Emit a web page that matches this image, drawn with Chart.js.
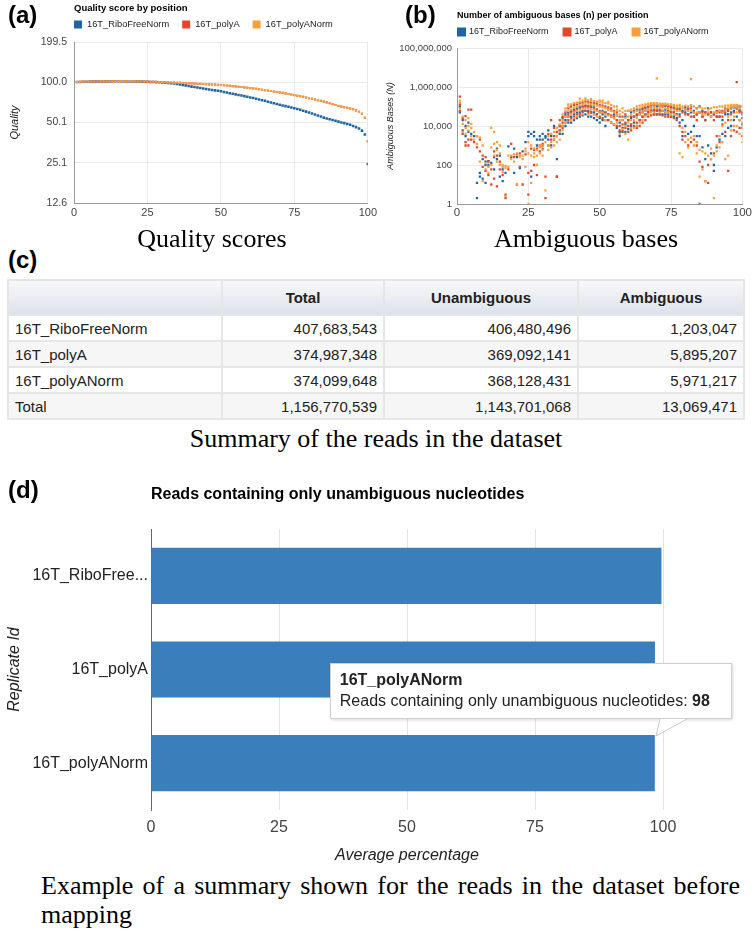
<!DOCTYPE html>
<html>
<head>
<meta charset="utf-8">
<script src="https://cdn.jsdelivr.net/npm/chart.js@4.4.1/dist/chart.umd.min.js"></script>
<style>
  body { margin: 0; background: #fff; }
  #page { position: relative; width: 754px; height: 941px; overflow: hidden; font-family: Arial, "Liberation Sans", sans-serif; }
  canvas { position: absolute; }
  .panel-label { position: absolute; font: bold 24px/24px Arial, "Liberation Sans", sans-serif; color: #000; }
  .caption { position: absolute; font: 26px/26px "Liberation Serif", "Times New Roman", serif; color: #000; text-align: center; white-space: nowrap; }
  #bottomCaption { position: absolute; left: 41px; top: 871px; width: 699px; font: 26px/29px "Liberation Serif", "Times New Roman", serif; color: #000; text-align: justify; }
  #reads { position: absolute; left: 7px; top: 279px; width: 736px; border-collapse: collapse; table-layout: fixed; font: 15px Arial, "Liberation Sans", sans-serif; color: #222; }
  #reads th, #reads td { border: 2px solid #e6e6e6; padding: 0 6px; white-space: nowrap; }
  #reads th { height: 33px; font-weight: bold; text-align: center; background: linear-gradient(#f7f8fa, #dde2ea); }
  #reads td { height: 24px; }
  #reads td.num { text-align: right; }
  #reads tbody tr:nth-child(even) td { background: #f6f6f6; }
  #tip { position: absolute; display: none; width: 402px; height: 56px; box-sizing: border-box; padding: 6px 9px 0 9px; background: #fff; border: 1px solid #cfcfcf; box-shadow: 1px 1px 3px rgba(0,0,0,0.15); color: #222; }
  #tip .t { font: bold 16px/20px Arial, "Liberation Sans", sans-serif; }
  #tip .b { font: 16px/21px Arial, "Liberation Sans", sans-serif; white-space: nowrap; }
  #tip svg { position: absolute; left: 324px; top: 54px; overflow: visible; }
</style>
</head>
<body>
<div id="page">
  <canvas id="chartA" width="380" height="231" style="left:0;top:0"></canvas>
  <canvas id="chartB" width="377" height="231" style="left:377px;top:0"></canvas>
  <canvas id="chartD" width="754" height="395" style="left:0;top:470px"></canvas>

  <div class="panel-label" style="left:8px;top:3px">(a)</div>
  <div class="panel-label" style="left:405px;top:3px">(b)</div>
  <div class="panel-label" style="left:8px;top:248px">(c)</div>
  <div class="panel-label" style="left:8px;top:478px">(d)</div>

  <div class="caption" style="left:112px;top:226px;width:200px">Quality scores</div>
  <div class="caption" style="left:486px;top:226px;width:200px">Ambiguous bases</div>
  <div class="caption" style="left:126px;top:426px;width:500px">Summary of the reads in the dataset</div>
  <div id="bottomCaption">Example of a summary shown for the reads in the dataset before mapping</div>

  <table id="reads">
    <colgroup><col style="width:214px"><col style="width:162px"><col style="width:194px"><col style="width:166px"></colgroup>
    <thead><tr><th></th><th>Total</th><th>Unambiguous</th><th>Ambiguous</th></tr></thead>
    <tbody></tbody>
  </table>

  <div id="tip">
    <div class="t"></div>
    <div class="b"></div>
    <svg width="34" height="19"><polygon points="5,1 32,1 1,18" fill="#fff"/><polyline points="5,1 1,18 32,1" fill="none" stroke="#c8c8c8"/></svg>
  </div>
</div>

<script>
// series names / colours
const seriesNames = ['16T_RiboFreeNorm', '16T_polyA', '16T_polyANorm'];
const seriesColors = ['#1f64a4', '#e2472a', '#f9a03c'];

// (a) quality score by position, positions 1..100
const qualRibo = [
  100.3,100.5,100.7,100.9,101.0,101.1,101.2,101.3,101.4,101.4,
  101.5,101.5,101.6,101.6,101.6,101.6,101.5,101.5,101.4,101.4,
  101.3,101.2,101.1,101.0,100.8,100.6,100.4,100.2,100.0,99.7,
  99.3,98.9,98.4,97.8,97.2,96.4,95.6,94.8,93.8,92.8,
  92.1,91.4,90.6,89.9,89.1,88.4,87.7,87.0,86.3,85.6,
  84.7,83.8,82.9,82.0,81.2,80.4,79.6,78.8,77.9,77.1,
  76.2,75.3,74.4,73.5,72.7,71.7,70.7,69.8,68.8,67.9,
  67.1,66.4,65.6,64.8,64.1,63.2,62.3,61.3,60.4,59.5,
  58.5,57.5,56.5,55.5,54.5,53.7,53.0,52.3,51.6,50.9,
  50.2,49.6,48.9,48.2,47.2,46.3,45.3,43.6,40.8,24.6
];
const qualPolyA = [
  100.4,100.6,100.8,100.9,101.1,101.2,101.3,101.4,101.4,101.5,
  101.6,101.6,101.6,101.7,101.7,101.7,101.6,101.6,101.5,101.4,
  101.4,101.3,101.2,101.1,101.0,100.8,100.7,100.5,100.4,100.2,
  100.0,99.8,99.6,99.4,99.2,99.0,98.7,98.5,98.3,98.0,
  97.7,97.5,97.2,97.0,96.7,96.5,96.2,96.0,95.7,95.4,
  95.0,94.5,94.0,93.6,93.1,92.6,92.1,91.6,91.0,90.5,
  89.9,89.3,88.6,88.0,87.3,86.7,86.0,85.4,84.7,84.0,
  83.3,82.6,81.8,81.0,80.2,79.4,78.6,77.8,77.0,76.1,
  75.3,74.4,73.6,72.7,71.8,70.8,69.8,68.7,67.7,66.6,
  65.9,65.2,64.4,63.7,62.9,61.7,60.1,58.3,54.4,36.3
];
const qualPolyANorm = [
  100.4,100.6,100.8,101.0,101.1,101.2,101.3,101.4,101.5,101.5,
  101.6,101.6,101.7,101.7,101.7,101.7,101.6,101.6,101.5,101.5,
  101.4,101.3,101.2,101.1,101.0,100.9,100.7,100.6,100.4,100.2,
  100.0,99.8,99.6,99.4,99.2,99.0,98.8,98.6,98.3,98.0,
  97.8,97.5,97.3,97.0,96.8,96.5,96.3,96.0,95.8,95.5,
  95.0,94.5,94.1,93.6,93.1,92.6,92.1,91.6,91.1,90.6,
  90.0,89.3,88.7,88.0,87.4,86.7,86.1,85.4,84.8,84.1,
  83.4,82.6,81.8,81.1,80.3,79.5,78.7,77.9,77.0,76.2,
  75.4,74.5,73.6,72.8,71.9,70.9,69.8,68.8,67.7,66.7,
  66.0,65.2,64.5,63.8,63.0,61.8,60.2,58.4,54.5,36.4
];
const qualTicks = [12.6, 25.13, 50.13, 100.0, 199.5];
const posTicks = [0, 25, 50, 75, 100];

// (b) ambiguous bases per position: several counts at each position 1..100
const ambRibo = [
  [5e4,1e5],[6e3,2e4],[3e3,1e4],[5e3,1.5e4],[4e3],[3e3],[3e3,12,2],[40,25],[200,20],[150,100,12],
  [160,100],[130],[250,60],[700,200],[300,25],[15,60],[40],[900],[250],[700,40],
  [250],[70],[500],[1.5e3],[5e3,3e3],[4e3,25],[5e3,3e3],[1e3,2e3],[2e3,3e3],[4e3,2e3,1e3],
  [2.5e3,3e3],[6e3,2e3],[1e3,3e3],[1e4,2e3],[3e3,200,25],[1e4,4e3,6e3],[2.5e4,1e4,4e3],[2e4,1e4,4e4],[5e4,3e4,1.5e4],[6e4,3e4,1.5e4],
  [7e4,4e4,2e4],[8e4,5e4,2.5e4],[9e4,5e4,3e4],[1e5,6e4,3.5e4],[1.1e5,6e4,4e4],[1e5,6e4,3e4],[1e5,5e4,3e4],[9e4,5e4,2.5e4],[7e4,4e4,2e4],[5e4,2.5e4,1.5e4],
  [4e4,2e4,6e4],[3e4,1e4,5e4],[4e4,2e4,7e4],[3e4,1.5e4,6e4],[2.5e4,1.2e4,4e4],[2e4,8e3,3.5e4],[5e3,3e3,1.5e4],[8e3,5e3,2e4],[1.2e4,5e3,3e4],[6e4,7e3,2e4],
  [5e4,1e4,2.5e4],[6e4,1.5e4,3e4],[7e4,1e4,3.5e4],[7e4,2e4,4e4],[8e4,3e4,5e4],[9e4,4e4,6e4],[1e5,5e4,7e4],[1.2e5,6e4,8e4],[1.1e5,6e4,4e4],[1e5,7e4,4e4],
  [1.1e5,6e4,4e4],[1e5,6e4,4e4],[1.1e5,7e4,4e4],[1e5,6e4,4e4],[9e4,5e4,3e4],[8e4,5e4,3e4],[8e4,4e4,2.5e4],[7e4,4e4,1.5e4],[6e4,3e3,2e4],[9e4,1e4,5e4],
  [8e4,4e3,4e4],[5e4,5e3,1.1e5],[6e4,1e4,3e4],[4e4,3e3,8e4],[1e5,3e3,5e4],[6e4,800,3e4],[5e4,200,2e4],[8e4,1e3,4e4],[5e4,400,3e4],[4e4,100,50],
  [5e4,800,3e4],[6e4,2e3,3e4],[5e4,4e3,2e4],[7e4,3e3,4e4],[7e4,8e3,4e4],[8e4,1e4,5e4],[9e4,2e4,6e4],[8e4,3e4,1.1e5],[6e4,2e4,1e5],[5e4,1.2e4,2.5e4]
];
const ambPolyA = [
  [3.2e5,1.3e5,6e4],[2.5e4,4e3],[3.2e4,1.5e3,1e3],[7e4,2e3,1e3],[7e4,2e3],[1.5e3],[800],[2e3,500],[300,80],[250,50],
  [150,30],[10,60],[500,20],[300,8],[150,60],[30],[3,2],[60],[1.2e3],[250],
  [350,10],[400,80],[10],[350],[3,40],[50,700],[100,600],[700,30],[1e3,500],[700,1.2e3],
  [25,2],[4e3,1e3],[2e4,2e3],[8e3,3e3],[25,5e3],[2e4,6e3,1e4],[3e4,1.5e4,8e3],[5e4,3e4,1.5e4],[8e4,4e4,2e4],[1e5,5e4,2.5e4],
  [1.2e5,6e4,3e4],[1.3e5,7e4,4e4],[1.5e5,8e4,4e4],[1.6e5,9e4,5e4],[1.8e5,1e5,6e4],[1.7e5,1e5,5e4],[1.6e5,9e4,5e4],[1.5e5,8e4,4e4],[1.4e5,7e4,4e4],[1.2e5,6e4,3e4],
  [1.1e5,5e4,2.5e4],[1e5,5e4,2e4],[9e4,4e4,2e4],[8e4,3.5e4,1.5e4],[6e4,3e4,1.2e4],[5e4,2e4,1e4],[3e4,1e4,6e3],[3e4,1.2e4,6e3],[4e4,1.5e4,8e3],[2e4,1e4,5e3],
  [3e4,1.2e4,6e3],[3e4,1e4,6e4],[4e4,1.5e4,8e3],[5e4,2e4,1e4],[7e4,3e4,1.5e4],[8e4,4e4,2e4],[1e5,5e4,3e4],[1.1e5,6e4,3.5e4],[1.2e5,7e4,4e4],[1.2e5,6e4,4e4],
  [1.1e5,7e4,4e4],[1.2e5,6e4,3.5e4],[1.1e5,5e4,3e4],[1e5,6e4,3e4],[1e5,5e4,3e4],[9e4,5e4,2.5e4],[7e4,4e4,2e4],[8e4,3e4,1e4],[5e3,2e3,5e4],[7e4,3e3,4e4],
  [7e4,1e3,4e4],[8e4,1.5e3,3e4],[5e4,2e3,3e4],[4e4,1e3,2e4],[5e4,150,1],[5e4,80,3e4],[5e4,15,2e4],[4e4,100,12],[3e4,200,5e4],[4e4,400,2e4],
  [3e4,3e3,6e4],[5e4,1.5e3,3e4],[6e4,1.2e4,3e4],[5e4,5e3,8e4],[6e4,2e4,50],[9e4,3e3,4e4],[1e5,6e3,5e4],[1.8e6,5e3,8e4],[7e4,8e3,5e4],[4e4,3e3,8e3]
];
const ambPolyANorm = [
  [1.6e5,8e4,2e5],[1.3e4,3e4,5e3],[8e3,2e4,4e3],[1e4,2.5e4,6e3],[1.3e4,8e3,3e3],[2e3,5e3],[3e3,1.2e3],[2.5e3,150],[1e3,15],[120,60],
  [80,40],[8e3,800,100],[5e3,1.2e3,300],[1.5e3,600,150],[1e3,400,100],[100,80,45],[90,70,2.5],[80,300],[300,200],[350,150],
  [400,10],[300,250],[300,200],[700,500,80],[1.5e3,400,1],[1e3,300,12],[700,400,250],[600,300,100],[800,400,1e3],[600,1e3,300],
  [5,1.5e3],[3e3,1e3,600],[4e3,1.5e3,800],[5e3,2e3,1e3],[8e3,3e3,1.5e3],[1.2e4,5e3,2e3],[4e4,2e4,1e4,6e3],[6e4,3e4,1.5e4,8e4],[1e5,6e4,3e4,1.3e5],[1.3e5,7e4,4e4,2e4],
  [1.5e5,9e4,5e4,2.5e4],[1.6e5,1e5,6e4,3e4],[1.8e5,1.2e5,7e4,2.5e5],[2e5,1.3e5,8e4,4e4],[2.2e5,1.4e5,8e4,2.6e5],[2.1e5,1.4e5,8e4,4e4],[2e5,1.3e5,7e4,2.4e5],[1.9e5,1.2e5,7e4,4e4],[1.8e5,1.1e5,6e4,3e4],[1.7e5,1e5,5e4,2e5],
  [1.6e5,9e4,5e4,2e5],[1.5e5,8e4,4e4,2e4],[1.4e5,7e4,3.5e4,1.7e5],[1.2e5,6e4,3e4,1.5e4],[1e5,5e4,2.5e4,1.2e4],[7e4,3.5e4,1.5e4,1e5],[4e4,2e4,4e3,6e4],[5e4,2e4,7e3,8e4],[6e4,2.5e4,1e4,4e3],[3e4,1.5e4,2e3,6e4],
  [4e4,2e4,8e3,7e4],[5e4,2e4,8e3,8e4],[6e4,2.5e4,1e4,1e5],[8e4,4e4,1.5e4,1.1e5],[1e5,5e4,2e4,1.2e5],[1.1e5,6e4,3e4,1.3e5],[1.2e5,7e4,4e4,1.4e5],[1.3e5,8e4,5e4,1.5e5],[1.3e5,9e4,5e4,1.5e5],[2.8e6,1.3e5,8e4,1.5e5],
  [1.4e5,9e4,5e4,1.2e5],[1.3e5,9e4,6e4,1.4e5],[1.3e5,8e4,5e4,1.4e5],[1.2e5,8e4,5e4,1.3e5],[1.2e5,7e4,4e4,1.3e5],[1.1e5,7e4,4e4,1.2e5],[9e4,6e4,3.5e4,1.1e5],[1e5,6e4,400,1.2e5],[8e4,8e3,250,1e5],[7e4,5e3,1.5e3,1.1e5],
  [6e4,2e3,800,1e5],[2.5e6,6e4,2.5e3,1.1e5],[5e4,3e3,1e3,1e5],[5e4,1.5e3,400,8e4],[5e4,600,25,9e4],[4e4,500,60,8e4],[4e4,400,15,8e4],[5e4,300,7e4],[3e4,700,200,8e4],[5e4,300,2,9e4],
  [5e4,1e3,500,9e4],[6e4,3e3,800,1e5],[5e4,1e4,1.5e3,1e5],[7e4,1.5e4,200,1.1e5],[8e4,3e4,300,1.1e5],[9e4,2e4,6e3,1.2e5],[1e5,3e4,1e4,1.2e5],[9e4,5e4,1e4,1.2e5],[8e4,2e4,4e3,1.1e5],[6e4,1.5e4,1.5e3,1e5]
];
const ambTicks = [1, 100, 10000, 1000000, 100000000];

// (c) read summary table
const tableRows = ['16T_RiboFreeNorm', '16T_polyA', '16T_polyANorm', 'Total'];
const totalReads = [407683543, 374987348, 374099648, 1156770539];
const unambReads = [406480496, 369092141, 368128431, 1143701068];
const ambReads = [1203047, 5895207, 5971217, 13069471];

// (d) average percentage of reads with only unambiguous nucleotides
const replicates = ['16T_RiboFreeNorm', '16T_polyA', '16T_polyANorm'];
const unambPct = [99.7, 98.43, 98.4];
const pctTicks = [0, 25, 50, 75, 100];

const withCommas = v => String(v).replace(/\B(?=(\d{3})+(?!\d))/g, ',');

// table
const tbody = document.querySelector('#reads tbody');
tableRows.forEach((name, i) => {
  const tr = document.createElement('tr');
  tr.innerHTML = '<td>' + name + '</td><td class="num">' + withCommas(totalReads[i]) +
    '</td><td class="num">' + withCommas(unambReads[i]) + '</td><td class="num">' + withCommas(ambReads[i]) + '</td>';
  tbody.appendChild(tr);
});

Chart.defaults.font.family = 'Arial, "Liberation Sans", sans-serif';
Chart.defaults.color = '#444';

// title + legend drawn from the chart area's left edge (google charts style)
const panelHeader = {
  id: 'panelHeader',
  afterDraw(chart, args, opts) {
    const ctx = chart.ctx;
    const x0 = chart.chartArea.left;
    ctx.save();
    ctx.textBaseline = 'middle';
    ctx.textAlign = 'left';
    ctx.fillStyle = '#000';
    ctx.font = opts.titleFont;
    ctx.fillText(opts.title, x0, opts.titleY);
    if (opts.legendY) {
      let x = x0;
      ctx.font = opts.legendFont;
      chart.data.datasets.forEach(ds => {
        ctx.fillStyle = ds.backgroundColor;
        ctx.fillRect(x, opts.legendY - opts.box / 2, opts.box, opts.box);
        x += opts.box + opts.textGap;
        ctx.fillStyle = '#222';
        ctx.fillText(ds.label, x, opts.legendY);
        x += ctx.measureText(ds.label).width + opts.itemGap;
      });
    }
    ctx.restore();
  }
};

const toPoints = arr => arr.map((v, i) => ({ x: i + 1, y: v }));
const toMultiPoints = arr => arr.flatMap((vals, i) => vals.map(v => ({ x: i + 1, y: v })));

function scatterSet(i, data, radius) {
  return {
    label: seriesNames[i], data: data, backgroundColor: seriesColors[i],
    pointStyle: 'rect', pointRadius: radius, pointBorderWidth: 0, borderWidth: 0,
    order: 3 - i
  };
}

// (a)
new Chart(document.getElementById('chartA'), {
  type: 'scatter',
  data: {
    datasets: [
      scatterSet(0, toPoints(qualRibo), 1.8),
      scatterSet(1, toPoints(qualPolyA), 1.5),
      scatterSet(2, toPoints(qualPolyANorm), 1.5)
    ]
  },
  options: {
    responsive: false, animation: false, events: [],
    layout: { padding: { top: 42, right: 10, left: 0, bottom: 0 } },
    plugins: {
      legend: { display: false }, tooltip: { enabled: false },
      panelHeader: { title: 'Quality score by position', titleY: 8.5, titleFont: 'bold 9.5px Arial, "Liberation Sans"',
        legendY: 24.5, legendFont: '9.3px Arial, "Liberation Sans"', box: 8, textGap: 5, itemGap: 13 }
    },
    scales: {
      x: {
        type: 'linear', min: 0, max: 100,
        afterBuildTicks: s => { s.ticks = posTicks.map(v => ({ value: v })); },
        ticks: { padding: 3, font: { size: 11 }, color: '#444' },
        grid: { color: '#e9e9e9', drawTicks: false },
        border: { color: '#9a9a9a' },
        afterFit: s => { s.height = 28; }
      },
      y: {
        type: 'logarithmic', min: 12.6, max: 199.5,
        afterBuildTicks: s => { s.ticks = qualTicks.map(v => ({ value: v })); },
        ticks: { callback: v => v.toFixed(1), padding: 7, font: { size: 10.5 }, color: '#444' },
        grid: { color: '#e9e9e9', drawTicks: false },
        border: { color: '#9a9a9a' },
        title: { display: true, text: 'Quality', color: '#222', font: { size: 11, style: 'italic' }, padding: { top: 8.4, bottom: 0 } },
        afterFit: s => { s.width = 74; }
      }
    }
  },
  plugins: [panelHeader]
});

// (b)
new Chart(document.getElementById('chartB'), {
  type: 'scatter',
  data: {
    datasets: [
      scatterSet(0, toMultiPoints(ambRibo), 1.6),
      scatterSet(1, toMultiPoints(ambPolyA), 1.6),
      scatterSet(2, toMultiPoints(ambPolyANorm), 1.6)
    ]
  },
  options: {
    responsive: false, animation: false, events: [],
    layout: { padding: { top: 48, right: 11, left: 0, bottom: 0 } },
    plugins: {
      legend: { display: false }, tooltip: { enabled: false },
      panelHeader: { title: 'Number of ambiguous bases (n) per position', titleY: 16, titleFont: 'bold 9px Arial, "Liberation Sans"',
        legendY: 32, legendFont: '9px Arial, "Liberation Sans"', box: 9, textGap: 3, itemGap: 14 }
    },
    scales: {
      x: {
        type: 'linear', min: 0, max: 100,
        afterBuildTicks: s => { s.ticks = posTicks.map(v => ({ value: v })); },
        ticks: { padding: 2, font: { size: 11.5 }, color: '#444' },
        grid: { color: '#e9e9e9', drawTicks: false },
        border: { color: '#9a9a9a' },
        afterFit: s => { s.height = 27; }
      },
      y: {
        type: 'logarithmic', min: 1, max: 100000000,
        afterBuildTicks: s => { s.ticks = ambTicks.map(v => ({ value: v })); },
        ticks: { callback: v => withCommas(v), padding: 5, font: { size: 9.5 }, color: '#444' },
        grid: { color: '#e9e9e9', drawTicks: false },
        border: { color: '#9a9a9a' },
        title: { display: true, text: 'Ambiguous Bases (N)', color: '#222', font: { size: 9, style: 'italic' }, padding: { top: 7.6, bottom: 0 } },
        afterFit: s => { s.width = 80; }
      }
    }
  },
  plugins: [panelHeader]
});

// (d)
Chart.Tooltip.positioners.barTop = function (items) {
  if (!items.length) return false;
  const el = items[0].element;
  return { x: el.x, y: el.y - el.height / 2 };
};

function drawTip(context) {
  const tip = context.tooltip;
  const box = document.getElementById('tip');
  if (tip.opacity === 0 || !tip.dataPoints || !tip.dataPoints.length) { box.style.display = 'none'; return; }
  const item = tip.dataPoints[0];
  box.querySelector('.t').textContent = item.label;
  box.querySelector('.b').innerHTML = item.dataset.label + ': <b>' + Math.round(item.raw) + '</b>';
  const canvas = context.chart.canvas;
  const ax = canvas.offsetLeft + tip.caretX;
  const ay = canvas.offsetTop + tip.caretY;
  box.style.left = (ax - 325) + 'px';
  box.style.top = (ay - 72) + 'px';
  box.style.display = 'block';
}

const chartD = new Chart(document.getElementById('chartD'), {
  type: 'bar',
  data: {
    labels: replicates,
    datasets: [{
      label: 'Reads containing only unambiguous nucleotides',
      data: unambPct,
      backgroundColor: '#3a7fbb',
      categoryPercentage: 1, barPercentage: 0.6
    }]
  },
  options: {
    indexAxis: 'y', responsive: false, animation: false, events: [],
    layout: { padding: { top: 59, right: 91, left: 0, bottom: 0 } },
    plugins: {
      legend: { display: false },
      tooltip: { enabled: false, position: 'barTop', external: drawTip },
      panelHeader: { title: 'Reads containing only unambiguous nucleotides', titleY: 25, titleFont: 'bold 16px Arial, "Liberation Sans"' }
    },
    scales: {
      x: {
        min: 0, max: 100,
        afterBuildTicks: s => { s.ticks = pctTicks.map(v => ({ value: v })); },
        ticks: { padding: 8, font: { size: 16 }, color: '#444' },
        grid: { color: '#e3e3e3', drawTicks: false },
        border: { display: false },
        title: { display: true, text: 'Average percentage', color: '#222', font: { size: 16, style: 'italic' }, padding: { top: 0, bottom: 0 } },
        afterFit: s => { s.height = 55; }
      },
      y: {
        ticks: {
          callback(v) { const s = this.getLabelForValue(v); return s.length > 13 ? s.slice(0, 12) + '...' : s; },
          padding: 3, font: { size: 16 }, color: '#222'
        },
        grid: { display: false, drawTicks: false },
        border: { display: true, color: '#666' },
        title: { display: true, text: 'Replicate Id', color: '#222', font: { size: 16, style: 'italic' }, padding: { top: 5.4, bottom: 0 } },
        afterFit: s => { s.width = 151; }
      }
    }
  },
  plugins: [panelHeader]
});

chartD.tooltip.setActiveElements([{ datasetIndex: 0, index: 2 }], { x: 0, y: 0 });
</script>
</body>
</html>
